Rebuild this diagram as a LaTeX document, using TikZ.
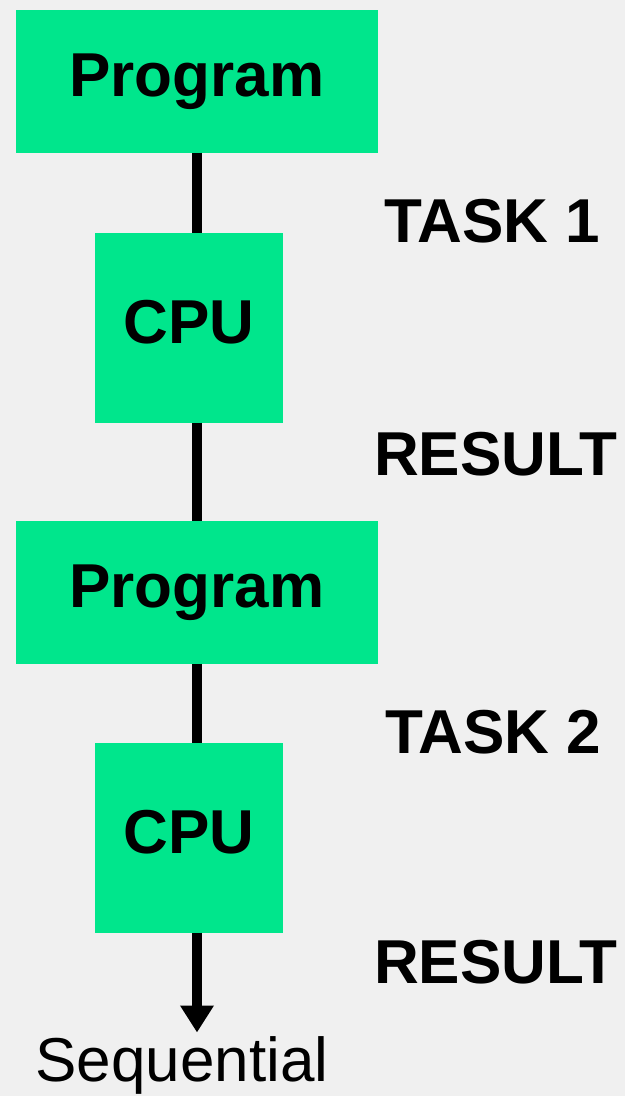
\documentclass[tikz,border=0pt]{standalone}
\usepackage{fontspec}
\setmainfont{Liberation Sans}
\usetikzlibrary{%
	positioning,
	arrows.meta
}
\definecolor{boxgreen}{RGB}{0,230,140}
\definecolor{backgray}{RGB}{240,240,240}

\begin{document}
\begin{tikzpicture}[x=1pt,y=-1pt,
		SBox/.style={fill=boxgreen,shape=rectangle,inner sep=0pt,outer sep=0pt,font=\fontsize{62pt}{62pt}\selectfont\bfseries,text height=44pt,text depth=13pt},
		SProg/.style={SBox,minimum width=362pt,minimum height=143pt},
		SCpu/.style={SBox,minimum width=188pt,minimum height=190pt},
		stage/.style={anchor=base west,inner sep=0pt,font=\fontsize{62pt}{62pt}\selectfont\bfseries},
		link/.style={line width=10pt}
	]
	
		\path[use as bounding box, fill=backgray] (0,0) rectangle (625,1096);
	
		\node(prog1)[SProg] at (197,81) {Program};
		\node(cpu1)[SCpu, below= 80pt of prog1, xshift=-8pt] {CPU};
		\node(prog2)[SProg, below= 98pt of cpu1, xshift=8pt] {Program};
		\node(cpu2)[SCpu, below= 79pt of prog2, xshift=-8pt] {CPU};
		\node(seq)[inner sep=0pt, text height=45pt, font=\fontsize{62pt}{62pt}\selectfont, below= 104pt of cpu2, xshift=-7pt] {Sequential};
		
		\draw[link] (prog1.south) -- (prog1.south |- cpu1.north);
		\draw[link] (prog1.south |- cpu1.south) -- (prog2.north);
		\draw[link] (prog2.south) -- (prog2.south |- cpu2.north);
		\draw[link, -{Triangle[width=32pt,length=27pt]}, shorten >=4pt] (prog2.south |- cpu2.south) -- (prog2.south |- seq.north);
		
		\node(task1)[stage] at (384,242) {TASK 1};
		\node(res1)[stage] at (374,475) {RESULT};
		\node(task2)[stage] at (385,753) {TASK 2};
		\node(res2)[stage] at (374,983) {RESULT};
		
	\end{tikzpicture}
\end{document}
